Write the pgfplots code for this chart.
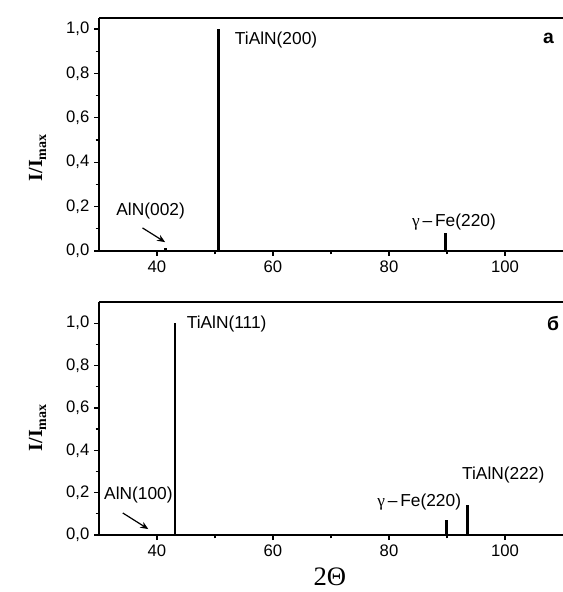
\documentclass[border=0pt]{standalone}
\usepackage{pgfplots}
\pgfplotsset{compat=1.18}
\usepackage{pgfplotstable}
\usetikzlibrary{arrows.meta}
\usepackage{fontspec}
\setmainfont{Liberation Sans}
\newfontfamily\serif{Liberation Serif}

\pgfplotstableread{
x y
41.5 0.012
50.6 1.0
89.7 0.08
}\dataA
\pgfplotstableread{
x y
40.0 0.006
43.1 1.0
89.9 0.07
93.5 0.14
}\dataB

\tikzset{lab/.style={inner sep=0pt, font=\fontsize{13}{15}\selectfont}}

\pgfplotsset{
  myaxis/.style={
    scale only axis, width=348pt, height=174.75pt,
    xmin=30, xmax=110, ymin=0,
    axis x line*=box, axis y line*=left,
    axis line style={-, line width=1.1pt, black},
    xtick pos=left,
    xtick={40,60,80,100}, minor x tick num=1,
    ytick={0,0.2,0.4,0.6,0.8,1}, minor y tick num=1,
    tick align=outside,
    major tick length=3.75pt, minor tick length=2.5pt,
    every tick/.style={black, line width=0.9pt},
    tick label style={font=\fontsize{12.5}{14}\selectfont},
    yticklabel style={/pgf/number format/.cd, fixed, fixed zerofill, precision=1, use comma, assume math mode=true},
    xticklabel style={/pgf/number format/assume math mode=true},
    clip=false,
  },
  peaks/.style={black, ycomb, line width=2.2pt, mark=none},
}

\newcommand{\ylab}{{\serif\fontsize{15}{17}\selectfont\bfseries I/I\raisebox{-0.45ex}{\fontsize{10.5}{12}\selectfont max}}}

\begin{document}
\begin{tikzpicture}
\useasboundingbox (-74.25pt,-42.75pt) rectangle (348pt,401.25pt);
% top panel
\begin{axis}[myaxis, at={(0pt,213pt)}, anchor=south west, ymax=1.05]
\addplot[peaks] table[x=x,y=y] {\dataA};
\node[lab, anchor=west] at (axis cs:53.4,0.95) {TiAlN(200)};
\node[lab] at (axis cs:38.9,0.18) {AlN(002)};
\draw[-{Stealth[length=6pt,width=5pt]}, line width=0.9pt] (axis cs:37.5,0.104) -- (axis cs:41.4,0.04);
\node[lab] at (axis cs:91.2,0.13) {{\serif γ}\,–\,Fe(220)};
\node[inner sep=0pt, font=\fontsize{14.5}{16}\selectfont\bfseries] at (axis cs:107.5,0.96) {а};
\end{axis}
\node[rotate=90, inner sep=0pt] at (-46pt,213pt+0.42*166.5pt) {\ylab};
% bottom panel
\begin{axis}[myaxis, at={(0pt,0pt)}, anchor=south west, ymax=1.1]
\addplot[peaks] table[x=x,y=y] {\dataB};
\node[lab, anchor=west] at (axis cs:45.1,0.995) {TiAlN(111)};
\node[lab] at (axis cs:36.8,0.19) {AlN(100)};
\draw[-{Stealth[length=6pt,width=5pt]}, line width=0.9pt] (axis cs:34.1,0.104) -- (axis cs:38.5,0.028);
\node[lab] at (axis cs:85.2,0.156) {{\serif γ}\,–\,Fe(220)};
\node[lab] at (axis cs:99.7,0.283) {TiAlN(222)};
\node[inner sep=0pt, font=\fontsize{14.5}{16}\selectfont\bfseries] at (axis cs:108.3,1.0) {б};
\node[inner sep=0pt, font=\serif\fontsize{20}{22}\selectfont] at (axis cs:69.8,0) [yshift=-31pt] {2Θ};
\end{axis}
\node[rotate=90, inner sep=0pt] at (-46pt,0.505*159pt) {\ylab};
\end{tikzpicture}
\end{document}
